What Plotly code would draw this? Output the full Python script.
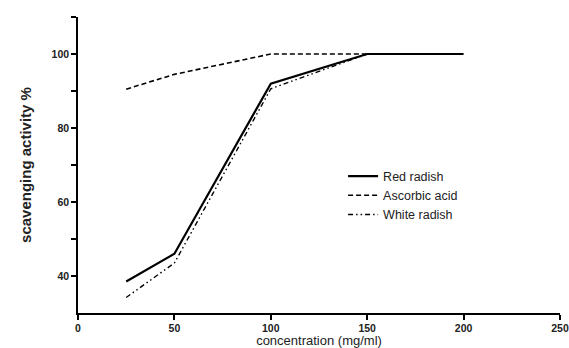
import plotly.graph_objects as go

conc = [25, 50, 100, 150, 200]
red_radish = [38.5, 46.0, 92.0, 100.0, 100.0]
ascorbic_acid = [90.5, 94.5, 100.0, 100.0, 100.0]
white_radish = [34.2, 43.5, 90.6, 100.0, 100.0]

y_tickvals = [40, 50, 60, 70, 80, 90, 100, 110]
y_ticktext = ["40", "", "60", "", "80", "", "100", ""]
x_tickvals = [0, 50, 100, 150, 200, 250]

fig = go.Figure()
fig.add_trace(go.Scatter(x=conc, y=red_radish, mode="lines", name="Red radish",
                         line=dict(color="black", width=2.2)))
fig.add_trace(go.Scatter(x=conc, y=ascorbic_acid, mode="lines", name="Ascorbic acid",
                         line=dict(color="black", width=1.6, dash="5px,3px")))
fig.add_trace(go.Scatter(x=conc, y=white_radish, mode="lines", name="White radish",
                         line=dict(color="black", width=1.4, dash="5px,3px,1.5px,3px,1.5px,3px")))

font_family = "Liberation Sans, Arial, sans-serif"
fig.update_layout(
    width=569, height=348,
    margin=dict(l=78, r=9, t=17, b=35),
    paper_bgcolor="white", plot_bgcolor="white",
    font=dict(family=font_family, color="black"),
    showlegend=True,
    legend=dict(x=0.55, y=0.512, xanchor="left", yanchor="top",
                font=dict(size=12.5, color="#222"), bgcolor="rgba(0,0,0,0)",
                tracegroupgap=0),
    xaxis=dict(range=[0, 250], tickvals=x_tickvals, showline=True, linecolor="black",
               linewidth=1.5, ticks="outside", ticklen=5, tickwidth=1.5, tickcolor="black",
               showgrid=False, zeroline=False, automargin=False,
               tickfont=dict(size=10.5, family=font_family, weight="bold", color="#222"),
               title=dict(text="concentration (mg/ml)", font=dict(size=13, color="#222"), standoff=0)),
    yaxis=dict(range=[30, 110], tickvals=y_tickvals, ticktext=y_ticktext, showline=True,
               linecolor="black", linewidth=1.5, ticks="outside", ticklen=5, tickwidth=1.5,
               tickcolor="black", showgrid=False, zeroline=False, automargin=False,
               tickfont=dict(size=10.5, family=font_family, weight="bold", color="#222"),
               title=dict(text="scavenging activity %", font=dict(size=15, weight="bold", color="#222"),
                          standoff=16)),
)

fig.write_html("out.html", config={"displayModeBar": False},
               post_script="document.body.style.margin='0';document.body.style.overflow='hidden';")
